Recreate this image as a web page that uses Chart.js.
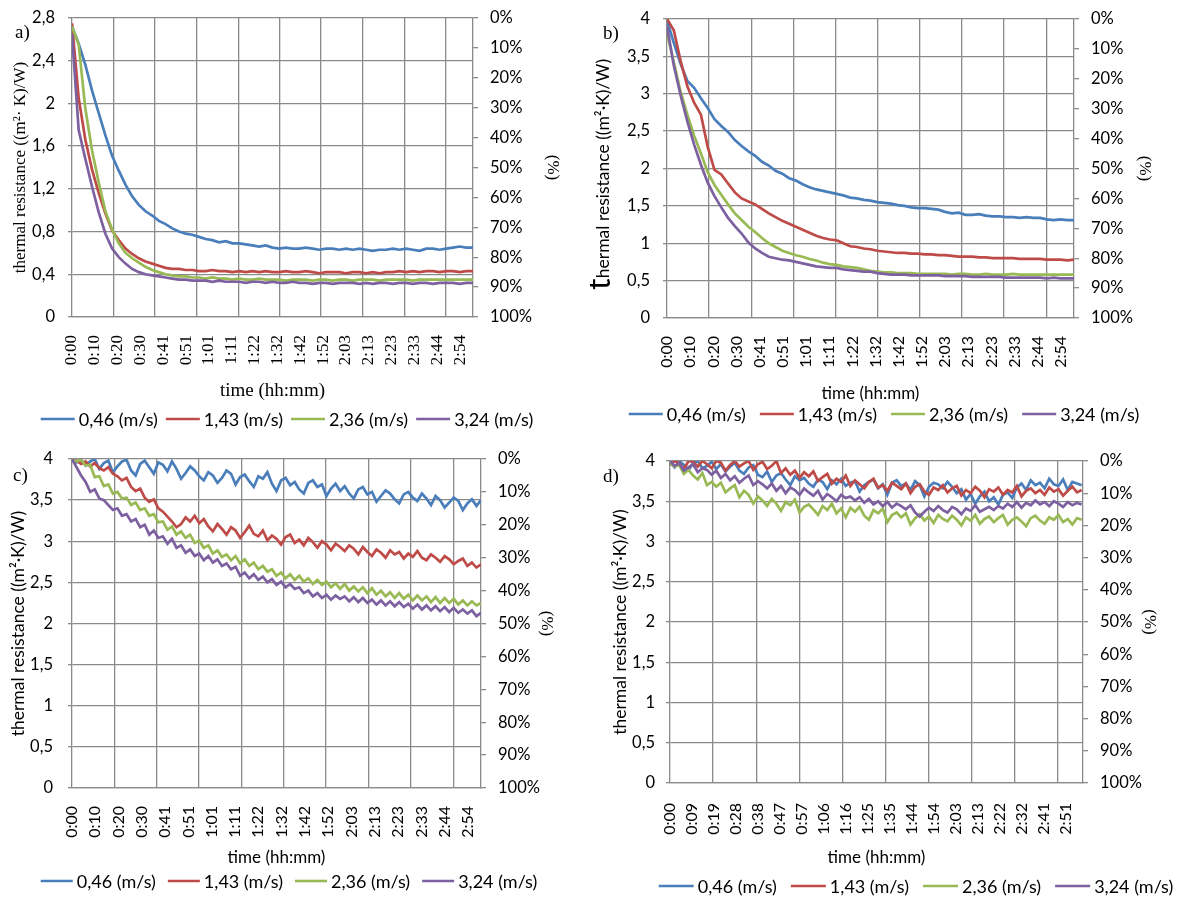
<!DOCTYPE html>
<html>
<head>
<meta charset="utf-8">
<title>Thermal resistance vs time</title>
<script src="https://cdn.jsdelivr.net/npm/chart.js@4.4.1/dist/chart.umd.min.js"></script>
<style>
  html, body { margin: 0; padding: 0; background: #fff; }
  #wrap { position: relative; width: 1187px; height: 897px; overflow: hidden; }
  #wrap canvas { position: absolute; }
</style>
</head>
<body>
<div id="wrap">
  <canvas id="chartA" width="590" height="440" style="left:0;top:0"></canvas>
  <canvas id="chartB" width="597" height="440" style="left:590px;top:0"></canvas>
  <canvas id="chartC" width="590" height="457" style="left:0;top:440px"></canvas>
  <canvas id="chartD" width="597" height="457" style="left:590px;top:440px"></canvas>
</div>
<script>
// air speeds (series names)
const speedLabels = ['0,46 (m/s)', '1,43 (m/s)', '2,36 (m/s)', '3,24 (m/s)'];

// sample times in minutes
const timeAB = [0,3,6,9,12,15,18,21,24,27,30,33,36,39,42,45,48,51,54,57,60,63,66,69,72,75,78,81,84,87,90,93,96,99,102,105,108,111,114,117,120,123,126,129,132,135,138,141,144,147,150,153,156,159,162,165,168,171,174,177,180];
const timeC = [0,2,4,6,8,10,12,14,16,18,20,22,24,26,28,30,32,34,36,38,40,42,44,46,48,50,52,54,56,58,60,62,64,66,68,70,72,74,76,78,80,82,84,86,88,90,92,94,96,98,100,102,104,106,108,110,112,114,116,118,120,122,124,126,128,130,132,134,136,138,140,142,144,146,148,150,152,154,156,158,160,162,164,166,168,170,172,174,176,178,180];
const timeD = [0,2,4,6,8,10,12,14,16,18,20,22,24,26,28,30,32,34,36,38,40,42,44,46,48,50,52,54,56,58,60,62,64,66,68,70,72,74,76,78,80,82,84,86,88,90,92,94,96,98,100,102,104,106,108,110,112,114,116,118,120,122,124,126,128,130,132,134,136,138,140,142,144,146,148,150,152,154,156,158,160,162,164,166,168,170,172,174,176,178];

// time axis labels and where they sit (minutes)
const tickLabels = ['0:00','0:10','0:20','0:30','0:41','0:51','1:01','1:11','1:22','1:32','1:42','1:52','2:03','2:13','2:23','2:33','2:44','2:54'];
const tickMinutes = [0,10.25,20.5,30.75,41,51.25,61.5,71.75,82,92.25,102.5,112.75,123,133.25,143.5,153.75,164,174.25];
const tickLabelsD = ['0:00','0:09','0:19','0:28','0:38','0:47','0:57','1:06','1:16','1:25','1:35','1:44','1:54','2:03','2:13','2:22','2:32','2:41','2:51'];
const tickMinutesD = [0,9.5,19,28.5,38,47.5,57,66.5,76,85.5,95,104.5,114,123.5,133,142.5,152,161.5,171];
const gridMinutes = [18.6,37.3,55.9,74.6,93.2,111.8,130.5,149.1,167.8];

const yTicksA = [0,0.4,0.8,1.2,1.6,2,2.4,2.8];
const yTicksBCD = [0,0.5,1,1.5,2,2.5,3,3.5,4];
const pctTicks = [0,10,20,30,40,50,60,70,80,90,100];

// a)
const a046 = [2.72,2.56,2.36,2.12,1.91,1.70,1.51,1.37,1.24,1.13,1.05,0.99,0.95,0.90,0.87,0.83,0.80,0.78,0.77,0.75,0.73,0.72,0.70,0.71,0.69,0.69,0.68,0.67,0.66,0.67,0.65,0.64,0.65,0.64,0.64,0.65,0.64,0.63,0.64,0.64,0.63,0.64,0.63,0.64,0.63,0.62,0.63,0.63,0.64,0.63,0.64,0.63,0.62,0.64,0.64,0.63,0.64,0.65,0.66,0.65,0.65];
const a143 = [2.75,2.05,1.66,1.38,1.16,0.97,0.81,0.72,0.64,0.59,0.55,0.52,0.50,0.48,0.46,0.45,0.45,0.44,0.44,0.43,0.43,0.44,0.43,0.43,0.42,0.43,0.42,0.43,0.42,0.43,0.42,0.42,0.43,0.42,0.42,0.43,0.42,0.41,0.42,0.42,0.42,0.41,0.42,0.42,0.41,0.42,0.41,0.42,0.42,0.43,0.42,0.43,0.42,0.43,0.43,0.42,0.43,0.43,0.42,0.43,0.43];
const a236 = [2.72,2.55,1.95,1.56,1.26,0.99,0.82,0.69,0.60,0.55,0.51,0.47,0.44,0.42,0.40,0.39,0.38,0.38,0.37,0.37,0.36,0.37,0.36,0.36,0.35,0.36,0.35,0.35,0.36,0.35,0.35,0.35,0.34,0.35,0.35,0.35,0.34,0.35,0.35,0.34,0.35,0.35,0.34,0.35,0.35,0.35,0.34,0.35,0.35,0.35,0.35,0.34,0.35,0.35,0.35,0.35,0.35,0.35,0.35,0.35,0.35];
const a324 = [2.65,1.75,1.48,1.22,0.98,0.78,0.64,0.56,0.50,0.45,0.42,0.40,0.39,0.38,0.37,0.36,0.35,0.35,0.34,0.34,0.34,0.33,0.34,0.33,0.33,0.33,0.32,0.33,0.33,0.32,0.33,0.32,0.32,0.33,0.32,0.32,0.31,0.32,0.32,0.31,0.32,0.32,0.32,0.31,0.32,0.31,0.32,0.32,0.31,0.32,0.32,0.31,0.32,0.32,0.31,0.32,0.32,0.32,0.31,0.32,0.32];

// b)
const b046 = [3.98,3.68,3.40,3.17,3.08,2.94,2.81,2.66,2.57,2.49,2.38,2.30,2.23,2.17,2.09,2.04,1.97,1.93,1.87,1.84,1.79,1.75,1.72,1.70,1.68,1.66,1.64,1.61,1.60,1.58,1.57,1.55,1.54,1.53,1.51,1.50,1.48,1.47,1.47,1.46,1.45,1.42,1.40,1.41,1.38,1.38,1.39,1.37,1.36,1.36,1.35,1.35,1.34,1.35,1.34,1.34,1.32,1.31,1.32,1.31,1.31];
const b143 = [4.00,3.85,3.44,3.10,2.88,2.72,2.29,1.98,1.92,1.80,1.68,1.60,1.56,1.52,1.46,1.40,1.35,1.30,1.26,1.22,1.18,1.14,1.10,1.07,1.05,1.04,1.00,0.96,0.95,0.93,0.92,0.90,0.89,0.88,0.87,0.87,0.86,0.86,0.85,0.85,0.84,0.84,0.83,0.82,0.82,0.82,0.81,0.81,0.80,0.80,0.80,0.80,0.79,0.79,0.79,0.79,0.78,0.78,0.78,0.77,0.78];
const b236 = [3.82,3.42,3.03,2.72,2.44,2.20,1.95,1.78,1.65,1.52,1.40,1.31,1.22,1.15,1.07,1.00,0.95,0.90,0.87,0.84,0.82,0.79,0.77,0.74,0.72,0.71,0.69,0.68,0.67,0.65,0.63,0.62,0.61,0.61,0.60,0.60,0.60,0.59,0.59,0.59,0.59,0.59,0.58,0.59,0.59,0.58,0.58,0.59,0.58,0.58,0.58,0.59,0.58,0.58,0.58,0.58,0.58,0.58,0.58,0.58,0.58];
const b324 = [3.90,3.38,2.98,2.63,2.32,2.05,1.81,1.63,1.48,1.34,1.23,1.13,1.01,0.93,0.87,0.82,0.80,0.78,0.77,0.75,0.73,0.71,0.69,0.68,0.67,0.67,0.65,0.64,0.63,0.62,0.62,0.60,0.59,0.58,0.58,0.58,0.57,0.57,0.57,0.57,0.57,0.56,0.56,0.56,0.56,0.55,0.55,0.55,0.55,0.55,0.54,0.54,0.54,0.54,0.54,0.54,0.53,0.54,0.53,0.53,0.53];

// c)
const c046 = [4.00,3.96,3.99,3.92,3.97,4.00,3.88,3.95,3.98,3.84,
  3.91,3.97,3.99,3.86,3.80,3.94,3.98,3.90,3.82,3.96,
  3.93,3.85,3.97,3.88,3.76,3.83,3.91,3.86,3.79,3.74,
  3.84,3.80,3.71,3.77,3.86,3.82,3.69,3.78,3.81,3.73,
  3.66,3.79,3.76,3.84,3.70,3.61,3.74,3.77,3.68,3.72,
  3.63,3.58,3.71,3.74,3.66,3.69,3.55,3.64,3.70,3.61,
  3.67,3.58,3.52,3.63,3.66,3.57,3.60,3.48,3.55,3.62,
  3.58,3.51,3.46,3.57,3.60,3.53,3.49,3.58,3.52,3.44,
  3.55,3.50,3.41,3.47,3.53,3.49,3.38,3.46,3.51,3.43,3.50];
const c143 = [4.00,3.98,3.94,3.97,3.91,3.95,3.89,3.86,3.90,3.82,
  3.79,3.74,3.77,3.66,3.61,3.64,3.53,3.48,3.51,3.40,
  3.36,3.30,3.24,3.17,3.21,3.29,3.24,3.31,3.22,3.27,
  3.18,3.12,3.21,3.15,3.08,3.17,3.13,3.04,3.11,3.19,
  3.09,3.06,3.13,3.01,3.07,3.03,2.96,3.05,3.08,2.98,
  3.02,2.95,3.04,2.99,2.92,3.00,2.96,2.89,2.97,2.93,
  2.88,2.95,2.91,2.84,2.93,2.87,2.82,2.90,2.86,2.80,
  2.89,2.84,2.87,2.79,2.85,2.81,2.88,2.80,2.77,2.84,
  2.80,2.75,2.82,2.78,2.72,2.76,2.79,2.70,2.74,2.68,2.72];
const c236 = [4.00,3.97,3.99,3.92,3.93,3.78,3.79,3.67,3.69,3.58,3.60,3.52,3.53,3.44,3.47,3.38,3.40,3.31,3.33,3.23,3.24,3.14,3.18,3.08,3.12,3.04,3.08,2.98,3.01,2.92,2.95,2.85,2.89,2.81,2.84,2.77,2.82,2.73,2.78,2.70,2.74,2.66,2.70,2.63,2.66,2.58,2.62,2.55,2.60,2.53,2.58,2.51,2.55,2.48,2.53,2.47,2.51,2.44,2.49,2.42,2.48,2.40,2.45,2.39,2.44,2.37,2.43,2.35,2.40,2.33,2.38,2.31,2.37,2.30,2.35,2.28,2.34,2.28,2.33,2.26,2.32,2.25,2.31,2.25,2.30,2.23,2.28,2.22,2.27,2.22,2.25];
const c324 = [4.00,3.90,3.80,3.72,3.60,3.63,3.52,3.50,3.44,3.38,3.40,3.31,3.33,3.24,3.27,3.17,3.20,3.08,3.13,3.04,3.06,2.97,3.03,2.92,2.95,2.86,2.90,2.82,2.85,2.77,2.82,2.74,2.78,2.70,2.73,2.66,2.69,2.58,2.62,2.55,2.60,2.53,2.57,2.50,2.54,2.47,2.51,2.44,2.48,2.42,2.44,2.37,2.40,2.33,2.37,2.31,2.35,2.29,2.34,2.30,2.33,2.27,2.32,2.26,2.31,2.25,2.29,2.23,2.28,2.22,2.27,2.21,2.26,2.20,2.24,2.18,2.23,2.17,2.22,2.16,2.21,2.15,2.20,2.14,2.19,2.13,2.17,2.12,2.16,2.09,2.13];

// d)
const d046 = [3.98,3.92,4.00,3.95,3.89,3.97,4.00,3.91,3.94,3.99,
  3.90,3.96,3.87,3.93,3.98,3.88,3.84,3.92,3.95,3.83,
  3.80,3.87,3.74,3.82,3.85,3.77,3.70,3.81,3.76,3.79,
  3.72,3.68,3.77,3.74,3.65,3.76,3.71,3.78,3.69,3.73,
  3.75,3.62,3.70,3.74,3.77,3.66,3.71,3.58,3.73,3.76,
  3.69,3.72,3.64,3.75,3.70,3.56,3.68,3.73,3.71,3.66,
  3.74,3.68,3.60,3.65,3.52,3.59,3.47,3.56,3.62,3.50,
  3.55,3.46,3.58,3.61,3.54,3.67,3.72,3.64,3.76,3.70,
  3.73,3.66,3.78,3.71,3.69,3.77,3.64,3.74,3.72,3.70];
const d143 = [3.95,4.00,3.97,3.90,4.00,3.99,3.93,4.00,3.96,3.91,
  4.00,3.98,3.88,3.95,4.00,3.93,3.97,4.00,3.89,3.96,
  3.99,3.90,3.94,4.00,3.85,3.91,3.83,3.88,3.79,3.86,
  3.81,3.87,3.75,3.80,3.84,3.72,3.78,3.74,3.82,3.69,
  3.76,3.71,3.66,3.74,3.78,3.67,3.70,3.63,3.73,3.69,
  3.65,3.72,3.60,3.68,3.71,3.62,3.58,3.67,3.64,3.70,
  3.61,3.66,3.69,3.57,3.64,3.60,3.68,3.63,3.55,3.65,
  3.62,3.67,3.58,3.64,3.61,3.69,3.56,3.63,3.66,3.60,
  3.64,3.58,3.67,3.62,3.65,3.57,3.63,3.68,3.61,3.64];
const d236 = [3.98,3.93,3.95,3.84,3.89,3.82,3.77,3.85,3.70,3.74,
  3.68,3.73,3.61,3.66,3.70,3.55,3.63,3.58,3.47,3.56,
  3.51,3.44,3.53,3.47,3.38,3.49,3.45,3.52,3.36,3.43,
  3.46,3.40,3.33,3.44,3.39,3.47,3.35,3.41,3.30,3.42,
  3.37,3.43,3.32,3.27,3.39,3.35,3.41,3.24,3.33,3.36,
  3.30,3.35,3.21,3.29,3.34,3.26,3.31,3.23,3.33,3.28,
  3.25,3.32,3.27,3.20,3.30,3.26,3.33,3.22,3.28,3.31,
  3.24,3.29,3.33,3.21,3.27,3.30,3.25,3.19,3.29,3.32,
  3.26,3.22,3.30,3.27,3.33,3.24,3.28,3.21,3.29,3.27];
const d324 = [4.00,3.94,3.97,3.88,3.92,3.96,3.86,3.91,3.89,3.83,
  3.88,3.79,3.84,3.76,3.81,3.73,3.78,3.82,3.70,3.75,
  3.71,3.66,3.72,3.63,3.69,3.60,3.67,3.64,3.58,3.66,
  3.61,3.57,3.63,3.52,3.59,3.55,3.50,3.58,3.54,3.56,
  3.51,3.55,3.48,3.53,3.46,3.50,3.44,3.49,3.42,3.47,
  3.44,3.40,3.45,3.36,3.31,3.37,3.42,3.38,3.44,3.39,
  3.36,3.43,3.40,3.34,3.41,3.38,3.45,3.37,3.40,3.43,
  3.39,3.44,3.41,3.47,3.43,3.49,3.42,3.48,3.45,3.51,
  3.46,3.49,3.44,3.50,3.47,3.43,3.49,3.45,3.48,3.46];

const colors = ['#4a7ebb', '#be4b48', '#98b954', '#7d60a0'];
const gridColor = '#8a8a8a';
const sans = 'Lato, "Open Sans", sans-serif';
const serif = '"Liberation Serif", "DejaVu Serif", serif';

const decimalComma = v => String(v).replace('.', ',');

// panel letter, optional enlarged initial of the y title, and the legend row
const panelDecor = {
  id: 'panelDecor',
  afterDraw(chart, args, o) {
    const ctx = chart.ctx;
    ctx.save();
    ctx.fillStyle = '#000';
    ctx.textBaseline = 'middle';
    ctx.textAlign = 'left';
    ctx.font = '19px ' + serif;
    ctx.fillText(o.letter, o.letterX, o.letterY);

    if (o.bigInitial) {
      ctx.save();
      ctx.translate(o.bigInitial.x, o.bigInitial.y);
      ctx.rotate(-Math.PI / 2);
      ctx.textBaseline = 'alphabetic';
      ctx.font = '32px ' + sans;
      ctx.fillText(o.bigInitial.text, 0, 0);
      ctx.restore();
    }

    ctx.font = '18px ' + sans;
    const items = chart.data.datasets.map(ds => ({
      text: ds.label, color: ds.borderColor, w: ctx.measureText(ds.label).width
    }));
    const total = items.reduce((s, it) => s + o.swatch + 4 + it.w, 0) + o.gap * (items.length - 1);
    let x = o.legendX - total / 2;
    items.forEach(it => {
      ctx.strokeStyle = it.color;
      ctx.lineWidth = 2.6;
      ctx.beginPath();
      ctx.moveTo(x, o.legendY);
      ctx.lineTo(x + o.swatch, o.legendY);
      ctx.stroke();
      x += o.swatch + 4;
      ctx.fillText(it.text, x, o.legendY + 1);
      x += it.w + o.gap;
    });
    ctx.restore();
  }
};

function makeChart(id, p) {
  const canvas = document.getElementById(id);
  const W = canvas.width, H = canvas.height;
  const datasets = p.series.map((vals, i) => ({
    label: speedLabels[i],
    data: p.time.map((t, k) => ({ x: t, y: vals[k] })),
    borderColor: colors[i],
    backgroundColor: colors[i],
    borderWidth: 2.7,
    pointRadius: 0,
    tension: 0,
    order: 4 - i
  }));

  return new Chart(canvas, {
    type: 'line',
    data: { datasets },
    plugins: [panelDecor],
    options: {
      responsive: false,
      animation: false,
      events: [],
      layout: { padding: { left: 0, right: 0, top: p.area.top, bottom: H - p.area.bottom - p.xHeight } },
      plugins: {
        legend: { display: false },
        tooltip: { enabled: false },
        panelDecor: p.decor
      },
      scales: {
        x: {
          type: 'linear', position: 'bottom', min: 0, max: p.xMax,
          afterBuildTicks: s => { s.ticks = p.tickMinutes.map(v => ({ value: v })); },
          afterFit: s => { s.height = p.xHeight; s.paddingLeft = 0; s.paddingRight = 0; },
          ticks: {
            autoSkip: false, minRotation: 90, maxRotation: 90, padding: p.xTickPad,
            color: '#000', font: p.xTickFont,
            callback: (v, i) => p.tickLabels[i]
          },
          grid: { display: false, drawTicks: false },
          border: { display: true, color: gridColor, width: 1.3 },
          title: { display: true, text: 'time (hh:mm)', color: '#000', font: p.xTitleFont, padding: 0 }
        },
        xg: {
          type: 'linear', position: 'bottom', min: 0, max: p.xMax,
          afterBuildTicks: s => { s.ticks = gridMinutes.map(v => ({ value: v })); },
          afterFit: s => { s.height = 0; s.paddingLeft = 0; s.paddingRight = 0; },
          ticks: { display: false },
          grid: { color: gridColor, lineWidth: 1.3, drawTicks: false },
          border: { display: false }
        },
        y: {
          type: 'linear', position: 'left', min: 0, max: p.yMax,
          afterBuildTicks: s => { s.ticks = p.yTicks.map(v => ({ value: v })); },
          afterFit: s => { s.width = p.area.left; s.paddingTop = 0; s.paddingBottom = 0; },
          ticks: { padding: p.yTickPad, color: '#000', font: { family: sans, size: 16.5 }, callback: v => decimalComma(v) },
          grid: { color: gridColor, lineWidth: 1.3, tickLength: 4 },
          border: { color: gridColor, width: 1.3 },
          title: { display: true, text: p.yTitle, color: '#000', font: p.yTitleFont, padding: { top: p.yTitlePad } }
        },
        y2: {
          type: 'linear', position: 'right', min: 0, max: 100, reverse: true,
          afterBuildTicks: s => { s.ticks = pctTicks.map(v => ({ value: v })); },
          afterFit: s => { s.width = W - p.area.right; s.paddingTop = 0; s.paddingBottom = 0; },
          ticks: { padding: 12, color: '#000', font: { family: sans, size: 16.5 }, callback: v => v + '%' },
          grid: { drawOnChartArea: false, color: gridColor, lineWidth: 1.3, tickLength: 5 },
          border: { color: gridColor, width: 1.3 },
          title: { display: true, text: '(%)', color: '#000', font: { family: serif, size: 17 }, padding: { top: p.pctTitlePad } }
        }
      }
    }
  });
}

makeChart('chartA', {
  series: [a046, a143, a236, a324], time: timeAB,
  area: { left: 72, right: 473, top: 18, bottom: 317 }, xHeight: 85,
  xMax: 180, tickMinutes: tickMinutes, tickLabels: tickLabels, xTickPad: 18,
  xTickFont: { family: serif, size: 17 }, xTitleFont: { family: serif, size: 19 },
  yMax: 2.8, yTicks: yTicksA, yTickPad: 13,
  yTitle: 'thermal resistance ((m²· K)/W)', yTitleFont: { family: serif, size: 17 }, yTitlePad: 10,
  pctTitlePad: 27,
  decor: { letter: 'a)', letterX: 15, letterY: 33, legendX: 287, legendY: 419, swatch: 34, gap: 8 }
});

makeChart('chartB', {
  series: [b046, b143, b236, b324], time: timeAB,
  area: { left: 77, right: 484, top: 19, bottom: 318 }, xHeight: 86,
  xMax: 180, tickMinutes: tickMinutes, tickLabels: tickLabels, xTickPad: 18,
  xTickFont: { family: sans, size: 16 }, xTitleFont: { family: sans, size: 17 },
  yMax: 4, yTicks: yTicksBCD, yTickPad: 13,
  yTitle: 'hermal resistance ((m²·K)/W)', yTitleFont: { family: sans, size: 17.5 }, yTitlePad: 3,
  pctTitlePad: 32,
  decor: { letter: 'b)', letterX: 13, letterY: 34, legendX: 294, legendY: 414, swatch: 34, gap: 14,
           bigInitial: { text: 't', x: 20, y: 290 } }
});

makeChart('chartC', {
  series: [c046, c143, c236, c324], time: timeC,
  area: { left: 72, right: 481, top: 19, bottom: 348 }, xHeight: 80,
  xMax: 180, tickMinutes: tickMinutes, tickLabels: tickLabels, xTickPad: 18,
  xTickFont: { family: sans, size: 16 }, xTitleFont: { family: sans, size: 17 },
  yMax: 4, yTicks: yTicksBCD, yTickPad: 15,
  yTitle: 'thermal resistance ((m²·K)/W)', yTitleFont: { family: sans, size: 17.5 }, yTitlePad: 8,
  pctTitlePad: 33,
  decor: { letter: 'c)', letterX: 13, letterY: 36, legendX: 289, legendY: 441, swatch: 32, gap: 12 }
});

makeChart('chartD', {
  series: [d046, d143, d236, d324], time: timeD,
  area: { left: 80, right: 493, top: 21, bottom: 343 }, xHeight: 85,
  xMax: 178.6, tickMinutes: tickMinutesD, tickLabels: tickLabelsD, xTickPad: 20,
  xTickFont: { family: sans, size: 16 }, xTitleFont: { family: sans, size: 17 },
  yMax: 4, yTicks: yTicksBCD, yTickPad: 11,
  yTitle: 'thermal resistance ((m²·K)/W)', yTitleFont: { family: sans, size: 17.5 }, yTitlePad: 20,
  pctTitlePad: 27,
  decor: { letter: 'd)', letterX: 13, letterY: 37, legendX: 326, legendY: 446, swatch: 35, gap: 14 }
});
</script>
</body>
</html>
